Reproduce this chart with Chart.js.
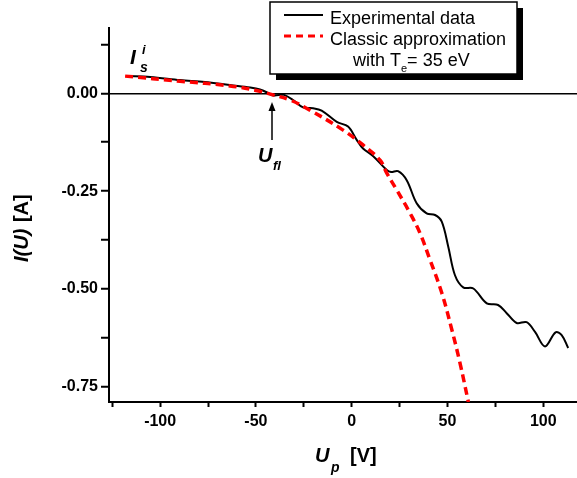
<!DOCTYPE html>
<html>
<head>
<meta charset="utf-8">
<script src="https://cdn.jsdelivr.net/npm/chart.js@4.4.0/dist/chart.umd.min.js"></script>
<style>
html, body { margin: 0; padding: 0; background: #fff; }
#wrap { width: 577px; height: 478px; }
</style>
</head>
<body>
<div id="wrap"><canvas id="iv" width="577" height="478"></canvas></div>
<script>
'use strict';

// experimental probe current (black solid)
const expU = [-117.3, -105.2, -89.6, -76.6, -63.6, -53.1, -47.9, -43.7, -41.6, -38.0, -35.3, -30.6, -25.4, -20.2, -15.7,
    -7.8, -1.9, 2.6, 5.9, 11.1, 18.3, 20.5, 24.2, 28.7, 33.9, 39.1, 43.5, 47.0, 50.4, 53.9, 58.2, 63.5, 70.5, 76.4,
    80.9, 86.1, 91.3, 95.7, 100.9, 106.4, 109.6, 113.0];
const expI = [0.044, 0.042, 0.034, 0.029, 0.021, 0.015, 0.010, 0.001, -0.005, -0.004, -0.004, -0.017, -0.036, -0.038, -0.044,
    -0.073, -0.085, -0.119, -0.141, -0.160, -0.196, -0.201, -0.199, -0.222, -0.281, -0.307, -0.311, -0.328, -0.392, -0.465,
    -0.496, -0.499, -0.537, -0.541, -0.562, -0.587, -0.585, -0.610, -0.647, -0.611, -0.618, -0.651];

// classic approximation, Te = 35 eV (red dashed)
const fitU = [-118.3, -89.6, -63.6, -50.5, -41.1, -32.2, -21.8, -4.5, 5.9, 14.8, 18.3, 23.5, 30.4, 35.6, 40.9, 47.0, 52.3, 56.5, 60.9];
const fitI = [0.044, 0.031, 0.019, 0.008, -0.004, -0.017, -0.043, -0.094, -0.132, -0.171, -0.204, -0.247, -0.306, -0.357, -0.426,
    -0.510, -0.605, -0.689, -0.789];

// axes
const xRange = [-126.7, 117.6];
const yRange = [-0.789, 0.167];
const xStep = 25;   // labelled every 50
const yStep = 0.125; // labelled every 0.25

const FONT = "'Liberation Sans', Arial, sans-serif";

function toPts(xs, ys) {
    return xs.map((x, i) => ({ x: x, y: ys[i] }));
}

// 범례, 주석, 축 제목은 직접 그림
const labelPlugin = {
    id: 'labels',
    afterDraw(chart) {
        const c = chart.ctx;
        c.save();

        // legend box with shadow
        c.fillStyle = '#000';
        c.fillRect(276, 8, 247, 72);
        c.fillStyle = '#fff';
        c.fillRect(270, 2, 247, 72);
        c.strokeStyle = '#000';
        c.lineWidth = 1.5;
        c.strokeRect(270, 2, 247, 72);

        c.lineWidth = 2;
        c.beginPath();
        c.moveTo(284, 15);
        c.lineTo(323, 15);
        c.stroke();
        c.strokeStyle = '#ff0000';
        c.lineWidth = 3;
        c.setLineDash([7, 5]);
        c.beginPath();
        c.moveTo(284, 36);
        c.lineTo(323, 36);
        c.stroke();
        c.setLineDash([]);

        c.fillStyle = '#000';
        c.textBaseline = 'alphabetic';
        c.textAlign = 'left';
        c.font = '18px ' + FONT;
        c.fillText('Experimental data', 330, 24);
        c.fillText('Classic approximation', 330, 45);
        let x = 353;
        c.fillText('with T', x, 66);
        x += c.measureText('with T').width;
        c.font = '11px ' + FONT;
        c.fillText('e', x, 72);
        x += c.measureText('e').width;
        c.font = '18px ' + FONT;
        c.fillText('= 35 eV', x, 66);

        // I_s^i
        c.font = 'bold italic 21px ' + FONT;
        c.fillText('I', 130, 64);
        c.font = 'bold italic 13px ' + FONT;
        c.fillText('i', 142, 54);
        c.font = 'bold italic 14px ' + FONT;
        c.fillText('s', 140, 72);

        // U_fl with arrow
        c.font = 'bold italic 20px ' + FONT;
        c.fillText('U', 258, 162);
        c.font = 'bold italic 13px ' + FONT;
        c.fillText('fl', 273, 170);
        c.strokeStyle = '#000';
        c.lineWidth = 1.5;
        c.beginPath();
        c.moveTo(272, 140);
        c.lineTo(272, 108);
        c.stroke();
        c.beginPath();
        c.moveTo(272, 102);
        c.lineTo(268.5, 111);
        c.lineTo(275.5, 111);
        c.closePath();
        c.fill();

        // x title
        c.font = 'bold italic 20px ' + FONT;
        c.fillText('U', 315, 462);
        c.font = 'bold italic 14px ' + FONT;
        c.fillText('p', 331, 472);
        c.font = 'bold 20px ' + FONT;
        c.fillText('[V]', 350, 462);

        // y title (rotated)
        c.translate(28, 262);
        c.rotate(-Math.PI / 2);
        c.font = 'bold italic 20px ' + FONT;
        c.fillText('I(U)', 0, 0);
        let w = c.measureText('I(U) ').width;
        c.font = 'bold 20px ' + FONT;
        c.fillText('[A]', w + 1, 0);

        c.restore();
    }
};

const iv = document.getElementById('iv');
const ivChart = new Chart(iv, {
    type: 'line',
    data: {
        datasets: [{
            label: 'Experimental data',
            data: toPts(expU, expI),
            borderColor: '#000',
            borderWidth: 2,
            pointRadius: 0,
            tension: 0.35,
            fill: false,
            order: 2
        }, {
            label: 'Classic approximation',
            data: toPts(fitU, fitI),
            borderColor: '#ff0000',
            borderWidth: 3.5,
            borderDash: [8, 5],
            pointRadius: 0,
            tension: 0.4,
            fill: false,
            order: 1
        }]
    },
    options: {
        responsive: false,
        animation: false,
        devicePixelRatio: 1,
        layout: { padding: { top: 28, right: 0, left: 0, bottom: 0 } },
        plugins: {
            legend: { display: false },
            tooltip: { enabled: false }
        },
        scales: {
            x: {
                type: 'linear',
                min: xRange[0],
                max: xRange[1],
                border: { color: '#000', width: 2 },
                grid: { drawOnChartArea: false, drawTicks: true, tickLength: 5, tickColor: '#000', tickWidth: 2 },
                ticks: {
                    stepSize: xStep,
                    includeBounds: false,
                    autoSkip: false,
                    maxRotation: 0,
                    color: '#000',
                    padding: 5,
                    font: { family: FONT, size: 16, weight: 'bold' },
                    callback: v => (Math.abs(v % 50) < 1e-6 ? String(v) : '')
                },
                afterFit: s => { s.height = 76; }
            },
            y: {
                type: 'linear',
                min: yRange[0],
                max: yRange[1],
                border: { color: '#000', width: 2 },
                grid: {
                    drawOnChartArea: true,
                    drawTicks: true,
                    tickLength: 8,
                    tickColor: '#000',
                    tickWidth: 2,
                    lineWidth: 1.5,
                    color: ctx => (ctx.tick && Math.abs(ctx.tick.value) < 1e-9 ? '#000' : 'rgba(0,0,0,0)')
                },
                ticks: {
                    stepSize: yStep,
                    includeBounds: false,
                    autoSkip: false,
                    color: '#000',
                    padding: 3,
                    font: { family: FONT, size: 16, weight: 'bold' },
                    callback: v => {
                        const q = v / 0.25;
                        return Math.abs(q - Math.round(q)) < 1e-6 ? v.toFixed(2) : '';
                    }
                },
                afterFit: s => { s.width = 109; }
            }
        }
    },
    plugins: [labelPlugin]
});
</script>
</body>
</html>
